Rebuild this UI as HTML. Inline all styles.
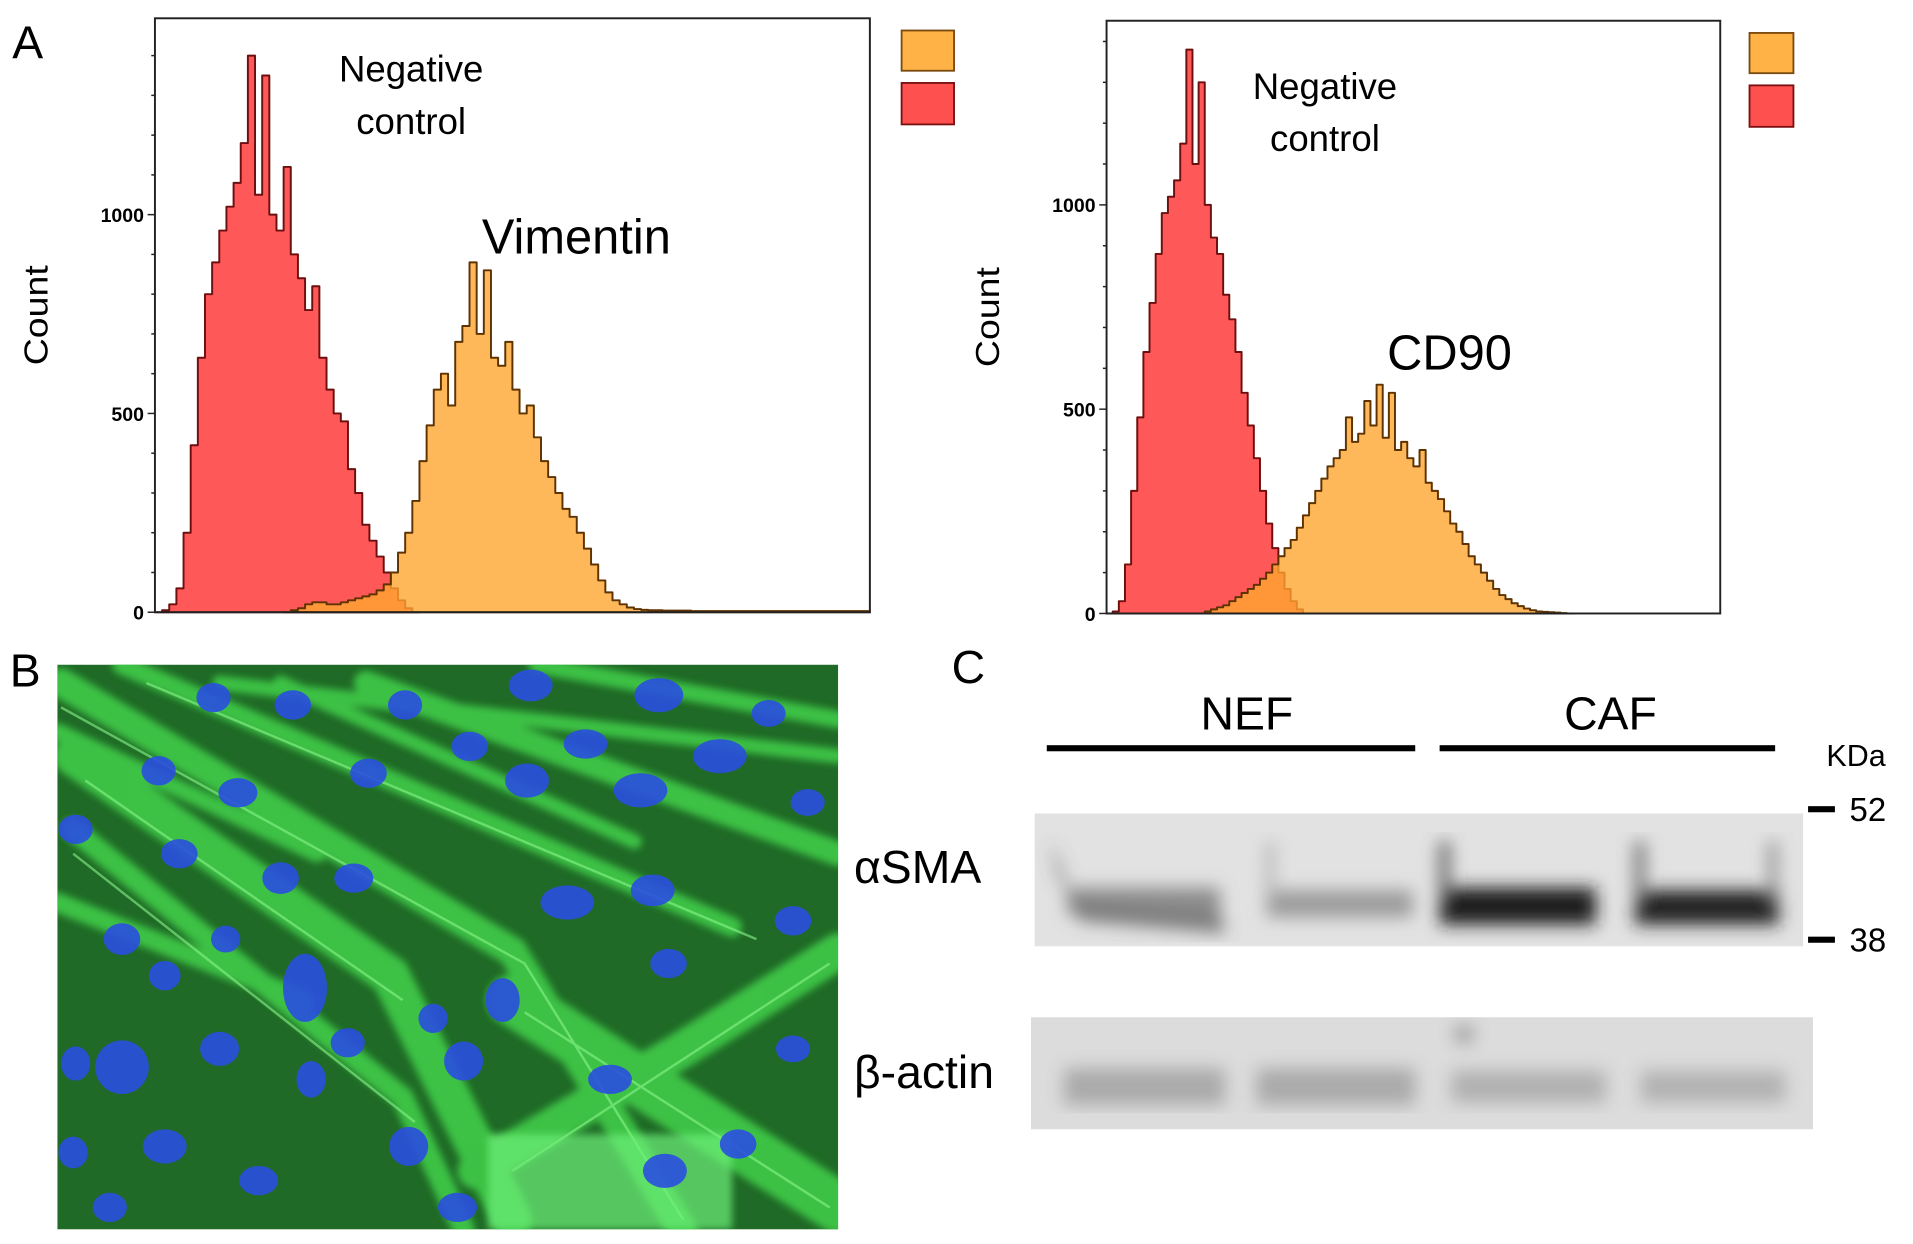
<!DOCTYPE html>
<html><head><meta charset="utf-8"><style>
html,body{margin:0;padding:0;background:#fff;}
svg{display:block;font-family:"Liberation Sans",sans-serif;}
</style></head><body>
<svg id="fig" width="1913" height="1244" viewBox="0 0 1568 1020" preserveAspectRatio="none" xmlns="http://www.w3.org/2000/svg">
<defs>
<filter id="blur6"><feGaussianBlur stdDeviation="7"/></filter>
<filter id="blur3"><feGaussianBlur stdDeviation="3"/></filter>
<clipPath id="micClip"><rect x="47" y="545" width="640" height="463"/></clipPath>
<clipPath id="b1Clip"><rect x="848" y="667" width="630" height="109"/></clipPath>
<clipPath id="b2Clip"><rect x="845" y="834" width="641" height="92"/></clipPath>
</defs>
<g id="chart1"></g>
<g id="chart2"></g>

<text x="10" y="48" font-size="38">A</text>
<text x="337" y="67" font-size="30" text-anchor="middle">Negative</text>
<text x="337" y="110" font-size="30" text-anchor="middle">control</text>
<text x="395" y="208" font-size="40">Vimentin</text>
<text x="1086" y="81" font-size="30" text-anchor="middle">Negative</text>
<text x="1086" y="124" font-size="30" text-anchor="middle">control</text>
<text x="1137" y="303" font-size="40">CD90</text>

<text x="8" y="563" font-size="38">B</text>
<g clip-path="url(#micClip)">
<rect x="47" y="545" width="640" height="463" fill="#1f6a26"/>
<g stroke="#45d84e" stroke-linecap="round" fill="none" opacity="0.8" filter="url(#blur3)">
<path d="M50 560 L420 780 L560 1010" stroke-width="24"/>
<path d="M60 620 L320 800 L420 1000" stroke-width="32"/>
<path d="M100 545 L600 760" stroke-width="16"/>
<path d="M300 560 L687 700" stroke-width="20"/>
<path d="M420 820 L687 990" stroke-width="42"/>
<path d="M390 960 L560 860 L687 780" stroke-width="30"/>
<path d="M47 740 L250 820" stroke-width="16"/>
<path d="M180 560 L687 620" stroke-width="12"/>
<path d="M60 680 L330 900 L380 1008" stroke-width="18"/>
<path d="M440 545 L687 590" stroke-width="14"/>
<path d="M47 600 L260 700" stroke-width="14"/>
<path d="M230 560 L520 690" stroke-width="12"/>
</g>
<g stroke="#8af58a" stroke-width="2" fill="none" opacity="0.6">
<path d="M50 580 L430 790 L560 1000"/><path d="M70 640 L330 820"/><path d="M120 560 L620 770"/>
<path d="M430 830 L680 990"/><path d="M420 960 L680 790"/><path d="M60 700 L340 920"/>
</g>
<rect x="400" y="930" width="200" height="78" fill="#6ef07a" opacity="0.7" filter="url(#blur3)"/>
<g fill="#2a4fe0" opacity="0.9">
<ellipse cx="175" cy="572" rx="14" ry="12"/><ellipse cx="240" cy="578" rx="15" ry="12"/><ellipse cx="332" cy="578" rx="14" ry="12"/>
<ellipse cx="435" cy="562" rx="18" ry="13"/><ellipse cx="540" cy="570" rx="20" ry="14"/><ellipse cx="630" cy="585" rx="14" ry="11"/>
<ellipse cx="385" cy="612" rx="15" ry="12"/><ellipse cx="480" cy="610" rx="18" ry="12"/><ellipse cx="590" cy="620" rx="22" ry="14"/>
<ellipse cx="130" cy="632" rx="14" ry="12"/><ellipse cx="195" cy="650" rx="16" ry="12"/><ellipse cx="302" cy="634" rx="15" ry="12"/>
<ellipse cx="432" cy="640" rx="18" ry="14"/><ellipse cx="525" cy="648" rx="22" ry="14"/><ellipse cx="662" cy="658" rx="14" ry="11"/>
<ellipse cx="62" cy="680" rx="14" ry="12"/><ellipse cx="147" cy="700" rx="15" ry="12"/><ellipse cx="230" cy="720" rx="15" ry="13"/>
<ellipse cx="290" cy="720" rx="16" ry="12"/><ellipse cx="465" cy="740" rx="22" ry="14"/><ellipse cx="535" cy="730" rx="18" ry="13"/>
<ellipse cx="650" cy="755" rx="15" ry="12"/><ellipse cx="100" cy="770" rx="15" ry="13"/><ellipse cx="185" cy="770" rx="12" ry="11"/>
<ellipse cx="250" cy="810" rx="18" ry="28"/><ellipse cx="135" cy="800" rx="13" ry="12"/><ellipse cx="412" cy="820" rx="14" ry="18"/>
<ellipse cx="548" cy="790" rx="15" ry="12"/><ellipse cx="100" cy="875" rx="22" ry="22"/><ellipse cx="62" cy="872" rx="12" ry="14"/>
<ellipse cx="180" cy="860" rx="16" ry="14"/><ellipse cx="255" cy="885" rx="12" ry="15"/><ellipse cx="285" cy="855" rx="14" ry="12"/>
<ellipse cx="500" cy="885" rx="18" ry="12"/><ellipse cx="650" cy="860" rx="14" ry="11"/><ellipse cx="135" cy="940" rx="18" ry="14"/>
<ellipse cx="212" cy="968" rx="16" ry="12"/><ellipse cx="335" cy="940" rx="16" ry="16"/><ellipse cx="545" cy="960" rx="18" ry="14"/>
<ellipse cx="605" cy="938" rx="15" ry="12"/><ellipse cx="90" cy="990" rx="14" ry="12"/><ellipse cx="375" cy="990" rx="16" ry="12"/>
<ellipse cx="380" cy="870" rx="16" ry="16"/><ellipse cx="355" cy="835" rx="12" ry="12"/><ellipse cx="60" cy="945" rx="12" ry="13"/>
</g>
</g>

<text x="780" y="560" font-size="38">C</text>
<text x="1022" y="598" font-size="38" text-anchor="middle">NEF</text>
<text x="1320" y="598" font-size="38" text-anchor="middle">CAF</text>
<rect x="858" y="611" width="302" height="5" fill="#000"/>
<rect x="1180" y="611" width="275" height="5" fill="#000"/>
<text x="1497" y="628" font-size="25">KDa</text>
<rect x="1482" y="661" width="22" height="5" fill="#000"/>
<text x="1516" y="673" font-size="27">52</text>
<rect x="1482" y="768" width="22" height="5" fill="#000"/>
<text x="1516" y="780" font-size="27">38</text>
<text x="700" y="724" font-size="38">αSMA</text>
<text x="700" y="892" font-size="38">β-actin</text>
<g clip-path="url(#b1Clip)">
<rect x="848" y="667" width="630" height="109" fill="#e2e2e2"/>
<g filter="url(#blur6)">
<path d="M862 690 Q866 735 890 742 L1000 750 L1005 765 L885 755 Z" fill="#555" opacity="0.75"/>
<rect x="875" y="728" width="125" height="22" fill="#777" opacity="0.8"/>
<rect x="1038" y="730" width="120" height="22" fill="#8a8a8a" opacity="0.8"/>
<rect x="1038" y="690" width="6" height="50" fill="#aaa"/>
<rect x="1180" y="728" width="128" height="30" fill="#1a1a1a"/>
<rect x="1180" y="690" width="8" height="50" fill="#555"/>
<rect x="1340" y="730" width="118" height="28" fill="#222"/>
<rect x="1340" y="690" width="8" height="50" fill="#666"/>
<rect x="1450" y="690" width="6" height="50" fill="#777"/>
</g>
</g>
<g clip-path="url(#b2Clip)">
<rect x="845" y="834" width="641" height="92" fill="#dcdcdc"/>
<g filter="url(#blur6)" opacity="0.75">
<rect x="872" y="876" width="132" height="30" fill="#9a9a9a"/>
<rect x="1030" y="876" width="130" height="30" fill="#9a9a9a"/>
<rect x="1190" y="878" width="126" height="26" fill="#a2a2a2"/>
<rect x="1345" y="878" width="118" height="26" fill="#a4a4a4"/>
<circle cx="1200" cy="848" r="8" fill="#888"/>
</g>
</g>

<script>
const yTicks = [0, 500, 1000];
const yTickLabels = ["0", "500", "1000"];
const vimNegStart = 0;
const vimNegCounts = [0,5,20,60,200,420,640,800,880,960,1020,1080,1180,1400,1050,1350,1000,960,1120,900,840,760,820,640,560,500,480,360,300,220,180,140,100,60,30,10,0];
const vimPosStart = 18;
const vimPosCounts = [0,5,10,20,25,25,20,20,25,30,35,40,45,55,70,100,150,200,280,380,470,560,600,520,680,720,880,700,860,640,620,680,560,500,520,440,380,340,300,260,240,200,160,120,80,50,30,20,12,8,6,5,5,4,4,4,4,3,3,3,3,3,3,3,3,3,3,3,3,3,3,3,3,3,3,3,3,3,3,3,3,3];
const cdNegStart = 0;
const cdNegCounts = [0,5,30,120,300,480,640,760,880,980,1020,1060,1150,1380,1100,1300,1000,920,880,780,720,640,540,460,380,300,220,160,100,60,30,10,0];
const cdPosStart = 15;
const cdPosCounts = [0,5,10,15,20,30,40,50,60,70,85,100,120,140,160,180,210,240,270,300,330,360,380,400,480,420,440,520,460,560,430,540,400,420,380,360,400,320,300,280,250,220,200,170,140,120,100,80,60,45,35,25,18,12,8,5,4,3,2,1,0];
const nBins = 100;

const NS = "http://www.w3.org/2000/svg";
function mk(tag, attrs, parent){const e=document.createElementNS(NS,tag);for(const k in attrs)e.setAttribute(k,attrs[k]);parent.appendChild(e);return e;}

function drawChart(gid, box, neg, negStart, pos, posStart){
  const g = document.getElementById(gid);
  const xs = b => box.x0 + (b/nBins)*(box.x1-box.x0);
  const ys = v => box.y1 - v*box.k;
  function series(counts, start, fill, stroke, op, name){
    let d = "M"+xs(start)+" "+ys(0);
    counts.forEach((c,i)=>{ d += " L"+xs(start+i)+" "+ys(c)+" L"+xs(start+i+1)+" "+ys(c); });
    d += " L"+xs(start+counts.length)+" "+ys(0)+" Z";
    const p = mk("path",{d:d,fill:fill,stroke:stroke,"stroke-width":1.6,"stroke-linejoin":"round","fill-opacity":op},g);
    
    
  }
  series(neg, negStart, "#ff4f4f", "#6e0f0f", 0.95, "negative-control-series");
  series(pos, posStart, "#ffa630", "#5e3300", 0.8, "marker-series");
  const frame = mk("rect",{x:box.x0,y:box.y0,width:box.x1-box.x0,height:box.y1-box.y0,fill:"none",stroke:"#222","stroke-width":1.6},g);
  
  
  for(let v=0; v*box.k <= box.y1-box.y0-5; v+=100){
    const t = mk("line",{x1:box.x0-(v%500===0?6:3),x2:box.x0,y1:ys(v),y2:ys(v),stroke:"#222","stroke-width":1.2},g);
    
    
  }
  yTicks.forEach((v,i)=>{
    const t = mk("text",{x:box.x0-9,y:ys(v)+6,"font-size":16,"font-weight":"bold","text-anchor":"end"},g);
    t.textContent = yTickLabels[i];
    
    
  });
  const yt = mk("text",{x:0,y:0,"font-size":27,"text-anchor":"middle",textLength:82,lengthAdjust:"spacingAndGlyphs",transform:"translate("+(box.x0-88)+","+((box.y0+box.y1)/2+0)+") rotate(-90)"},g);
  yt.textContent = "Count";
  
  
  const l1 = mk("rect",{x:box.lx,y:box.ly,width:box.lw,height:33,fill:"#ffb347",stroke:"#7a4a10","stroke-width":1.5},g);
  
  
  const l2 = mk("rect",{x:box.lx,y:box.ly+43,width:box.lw,height:34,fill:"#ff5050",stroke:"#7a1010","stroke-width":1.5},g);
  
  
}
drawChart("chart1",{x0:127,x1:713,y0:15,y1:502,k:163/500,lx:739,ly:25,lw:43}, vimNegCounts, vimNegStart, vimPosCounts, vimPosStart);
drawChart("chart2",{x0:907,x1:1410,y0:17,y1:503,k:167.5/500,lx:1434,ly:27,lw:36}, cdNegCounts, cdNegStart, cdPosCounts, cdPosStart);
</script>
</svg>
</body></html>
